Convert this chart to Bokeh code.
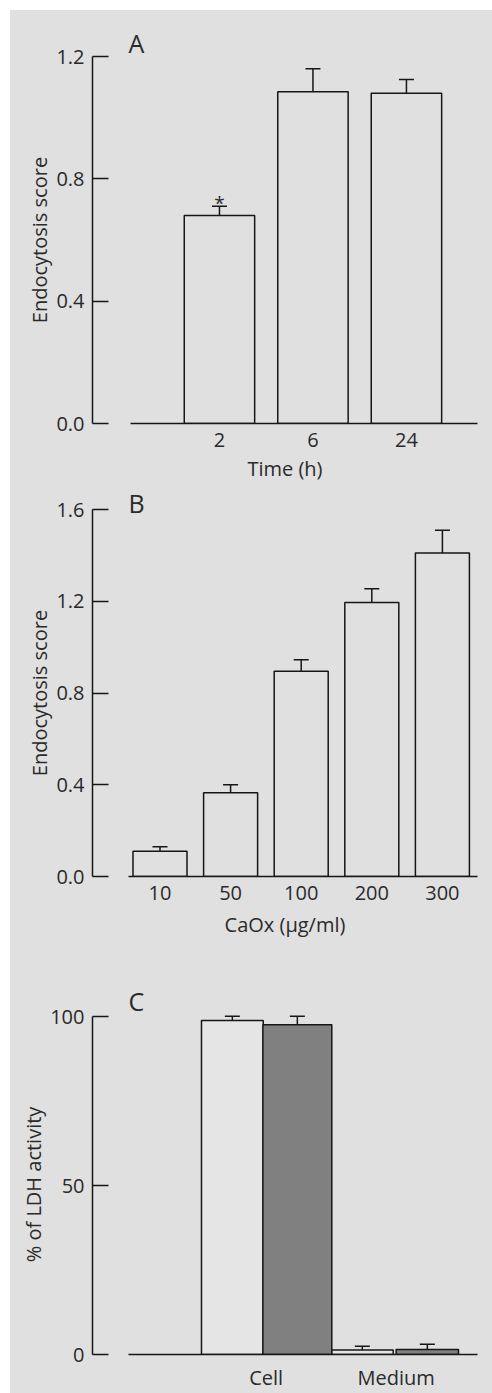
from bokeh.plotting import figure
from bokeh.layouts import column
from bokeh.models import (FixedTicker, Label, Whisker, TeeHead, ColumnDataSource,
                          Range1d, NumeralTickFormatter)
from bokeh.embed import file_html
from bokeh.resources import INLINE

# ---------------- data ----------------
# Panel A: endocytosis score vs time
time_labels = ["2", "6", "24"]
time_scores = [0.68, 1.085, 1.08]
time_errors = [0.03, 0.075, 0.045]

# Panel B: endocytosis score vs CaOx concentration
caox_labels = ["10", "50", "100", "200", "300"]
caox_scores = [0.11, 0.365, 0.895, 1.195, 1.41]
caox_errors = [0.02, 0.035, 0.05, 0.06, 0.10]

# Panel C: % of LDH activity
ldh_groups = ["Cell", "Medium"]
ldh_open = [98.8, 1.35]
ldh_open_err = [1.3, 1.1]
ldh_filled = [97.6, 1.47]
ldh_filled_err = [2.5, 1.55]

# ---------------- style ----------------
BG = "#e0e0e0"
INK = "#161616"
TXT = "#2a2a2a"
FONT = "Open Sans"
LW = 1.5
FS = "20px"


def make_panel(height, top, bottom, x_start, x_end, base_start, y_ticks, y_fmt,
               labels, x_label, y_label, letter, letter_offset, letter_standoff,
               xlabel_standoff=5):
    p = figure(width=482, height=height,
               x_range=Range1d(x_start, x_end), y_range=Range1d(0, y_ticks[-1]),
               output_backend="svg", toolbar_location=None,
               min_border_left=82, min_border_right=15,
               min_border_top=top, min_border_bottom=bottom,
               background_fill_color=BG, border_fill_color=BG,
               outline_line_color=None)
    p.grid.visible = False

    ya = p.yaxis[0]
    ya.ticker = FixedTicker(ticks=y_ticks)
    ya.formatter = NumeralTickFormatter(format=y_fmt)
    ya.bounds = (y_ticks[0], y_ticks[-1])
    ya.major_tick_in = 16
    ya.major_tick_out = 0
    ya.minor_tick_line_color = None
    ya.axis_line_color = INK
    ya.axis_line_width = LW
    ya.major_tick_line_color = INK
    ya.major_tick_line_width = LW
    ya.major_label_standoff = 8
    ya.major_label_text_font = FONT
    ya.major_label_text_font_size = FS
    ya.major_label_text_color = TXT
    ya.axis_label = y_label
    ya.axis_label_text_font = FONT
    ya.axis_label_text_font_size = FS
    ya.axis_label_text_font_style = "normal"
    ya.axis_label_text_color = TXT
    ya.axis_label_standoff = 0

    xa = p.xaxis[0]
    xa.ticker = FixedTicker(ticks=list(range(len(labels))))
    xa.major_label_overrides = {i: lab for i, lab in enumerate(labels)}
    xa.bounds = (base_start, x_end)
    xa.major_tick_line_color = None
    xa.minor_tick_line_color = None
    xa.axis_line_color = INK
    xa.axis_line_width = LW
    xa.major_label_standoff = 3
    xa.major_label_text_font = FONT
    xa.major_label_text_font_size = FS
    xa.major_label_text_color = TXT
    if x_label:
        xa.axis_label = x_label
        xa.axis_label_text_font = FONT
        xa.axis_label_text_font_size = FS
        xa.axis_label_text_font_style = "normal"
        xa.axis_label_text_color = TXT
        xa.axis_label_standoff = xlabel_standoff

    p.title.text = letter
    p.title.align = "left"
    p.title.offset = letter_offset
    p.title.standoff = letter_standoff
    p.title.text_font = FONT
    p.title.text_font_size = "25px"
    p.title.text_font_style = "normal"
    p.title.text_color = TXT
    return p


def add_bars(p, xs, tops, errs, widths, fill):
    src = ColumnDataSource(dict(x=xs, top=tops, w=widths,
                                upper=[t + e for t, e in zip(tops, errs)],
                                lower=list(tops)))
    p.add_layout(Whisker(source=src, base="x", upper="upper", lower="lower",
                         dimension="height", line_color=INK, line_width=LW,
                         upper_head=TeeHead(size=15, line_color=INK, line_width=LW),
                         lower_head=None, level="underlay"))
    p.vbar(x="x", top="top", bottom=0, width="w", source=src,
           fill_color=fill, line_color=INK, line_width=LW)
    return src


# ---------------- panel A ----------------
pA = make_panel(475, 46, 62, -1.358, 2.76, -0.952, [0, 0.4, 0.8, 1.2], "0.0",
                time_labels, "Time (h)", "Endocytosis score", "A", 36, -6, 5)
xa_pos = list(range(len(time_labels)))
add_bars(pA, xa_pos, time_scores, time_errors, [0.753] * len(xa_pos), BG)
pA.add_layout(Label(x=xa_pos[0], y=time_scores[0] + time_errors[0], text="*",
                    text_font=FONT, text_font_size="19px", text_color=TXT,
                    text_align="center", text_baseline="alphabetic", y_offset=3))

# ---------------- panel B ----------------
pB = make_panel(456, 24, 65, -0.956, 4.497, -0.45, [0, 0.4, 0.8, 1.2, 1.6], "0.0",
                caox_labels, "CaOx (µg/ml)", "Endocytosis score", "B", 36, -20, 8)
xb_pos = list(range(len(caox_labels)))
add_bars(pB, xb_pos, caox_scores, caox_errors, [0.765] * len(xb_pos), BG)

# ---------------- panel C ----------------
pC = make_panel(452, 73, 39, -1.336, 1.626, -1.059, [0, 50, 100], "0",
                ldh_groups, None, "% of LDH activity", "C", 36, -6)
pC.y_range.end = 100.6
gi = list(range(len(ldh_groups)))
add_bars(pC, [g - 0.26 for g in gi], ldh_open, ldh_open_err, [0.475, 0.475], "#e5e5e5")
add_bars(pC, [g + 0.24 for g in gi], ldh_filled, ldh_filled_err, [0.53, 0.48], "#808080")

layout = column(pA, pB, pC, spacing=0, margin=(10, 0, 0, 10),
                styles={"background-color": BG})

open("out.html", "w").write(file_html(layout, INLINE))
